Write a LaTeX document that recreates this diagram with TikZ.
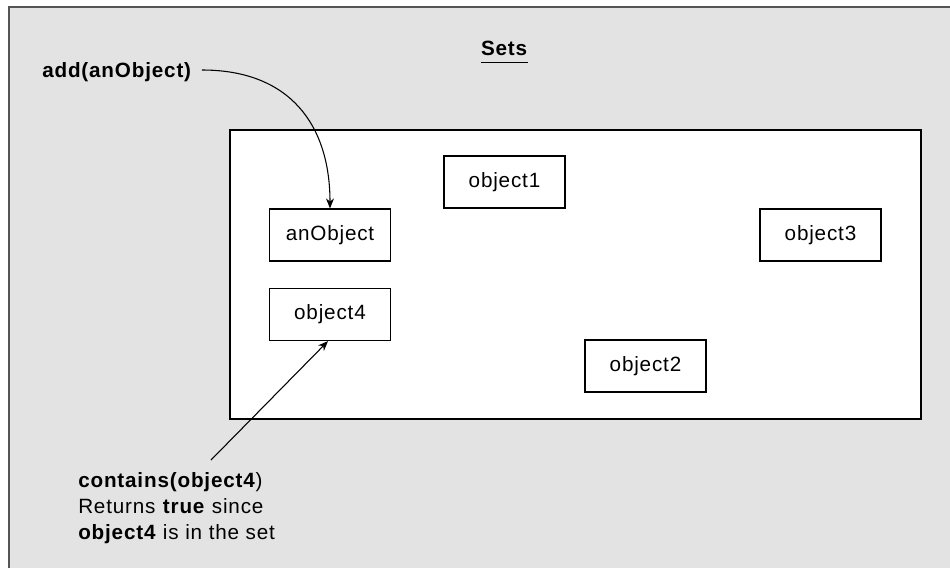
\documentclass[tikz,border=0pt]{standalone}
\usepackage{fontspec}
\setmainfont[LetterSpace=4]{Liberation Sans}
\usetikzlibrary{arrows.meta}
\definecolor{panel}{HTML}{E3E3E3}
\definecolor{frame}{HTML}{555555}
\tikzset{
  objbox/.style={draw=black, fill=white, line width=0.9pt, minimum width=121*0.75pt, minimum height=52*0.75pt, inner sep=0pt, font=\fontsize{15.5}{18}\selectfont},
  lbl/.style={inner sep=0pt, anchor=base west, font=\fontsize{15.5}{18}\selectfont},
  arr/.style={line width=0.8pt, -{Stealth[length=7.5pt,width=6pt]}}
}
\begin{document}
\begin{tikzpicture}[x=0.75pt,y=-0.75pt]
\useasboundingbox (0,0) rectangle (950,568);
% outer panel
\fill[panel] (9,7) rectangle (950,568);
\draw[frame, line width=1.6pt] (9,568) -- (9,7) -- (950,7);
% set area
\draw[black, fill=white, line width=0.9pt] (230,130) rectangle (921,419);
% title
\node[lbl, anchor=base] (sets) at (504.5,55) {\textbf{Sets}};
\draw[line width=1pt] ([yshift=-5.5pt]sets.base west) -- ([yshift=-5.5pt]sets.base east);
% objects
\node[objbox] (o1) at (504.5,182) {object1};
\node[objbox] (ao) at (330,235) {anObject};
\node[objbox] (o3) at (820.5,235) {object3};
\node[objbox] (o4) at (330,314.5) {object4};
\node[objbox] (o2) at (645.5,366) {object2};
% add label
\node[lbl] (add) at (42,77) {\textbf{add(anObject)}};
\coordinate (addend) at (202,70);
\draw[arr] (addend) .. controls (290,70) and (330,125) .. (ao.north);
% contains label
\node[lbl] (c1) at (78,487) {\textbf{contains(object4})};
\node[lbl] (c2) at (78,513) {Returns \textbf{true} since};
\node[lbl] (c3) at (78,539) {\textbf{object4} is in the set};
\coordinate (cstart) at (211,460);
\draw[arr] (cstart) -- ([xshift=-1.5pt]o4.south);
\end{tikzpicture}
\end{document}
